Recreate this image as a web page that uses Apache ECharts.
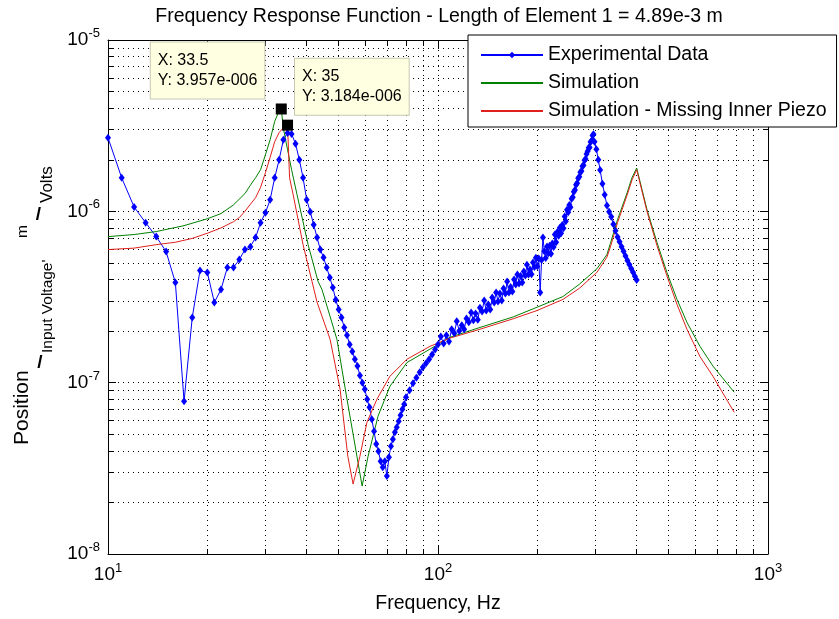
<!DOCTYPE html>
<html>
<head>
<meta charset="utf-8">
<script src="https://cdn.jsdelivr.net/npm/echarts@6/dist/echarts.min.js"></script>
<style>
html, body { margin: 0; padding: 0; background: #fff; }
#chart { width: 839px; height: 619px; }
</style>
</head>
<body>
<div id="chart"></div>
<script>
var FONT = '"Liberation Sans", Arial, Helvetica, sans-serif';

// measured response, Hz -> m/V
var expFreq = [10, 11, 12, 13, 14, 15, 16, 17, 18, 19, 20, 21, 22, 23, 24, 25, 26, 27, 28, 29,
    30, 31, 32, 33, 34, 35, 36, 37, 38, 39, 40, 41, 42, 43, 44, 45, 46, 47, 48, 49,
    50, 51, 52, 53, 54, 55, 56, 57, 58, 59, 60, 61, 62, 63, 64, 65, 66, 67, 68, 69,
    70, 71, 72, 73, 74, 75, 76, 77, 78, 79, 80, 82, 84, 86, 88, 90, 92, 94, 96, 98,
    100, 102, 104, 106, 108, 110, 112, 114, 116, 118, 120, 122, 124, 126, 128, 130, 132, 134, 136, 138,
    140, 142, 144, 146, 148, 150, 152, 154, 156, 158, 160, 162, 164, 166, 168, 170, 172, 174, 176, 178,
    180, 182, 184, 186, 188, 190, 192, 194, 196, 198, 200, 202, 204, 206, 208, 210, 212, 214, 216, 218,
    220, 222, 224, 226, 228, 230, 232, 234, 236, 238, 240, 242, 244, 246, 248, 250, 252, 254, 256, 258,
    260, 262, 264, 266, 268, 270, 272, 274, 276, 278, 280, 282, 284, 286, 288, 290, 292, 294, 296, 298,
    302, 306, 310, 315, 320, 325, 330, 335, 340, 345, 350, 355, 360, 365, 370, 375, 380, 385, 390, 395,
    400];
var expVal = [2.69e-6, 1.57e-6, 1.06e-6, 8.59e-7, 7.12e-7, 5.82e-7, 3.84e-7, 7.78e-8, 2.40e-7, 4.51e-7,
    4.40e-7, 2.94e-7, 3.50e-7, 4.70e-7, 4.70e-7, 5.23e-7, 5.98e-7, 6.22e-7, 7.03e-7, 8.59e-7,
    9.82e-7, 1.17e-6, 1.57e-6, 2.00e-6, 2.62e-6, 2.87e-6, 2.83e-6, 2.48e-6, 2.00e-6, 1.57e-6,
    1.17e-6, 9.96e-7, 8.36e-7, 7.03e-7, 5.98e-7, 5.37e-7, 4.70e-7, 4.11e-7, 3.59e-7, 3.05e-7,
    2.67e-7, 2.40e-7, 2.10e-7, 1.89e-7, 1.67e-7, 1.52e-7, 1.37e-7, 1.25e-7, 1.10e-7, 1.00e-7,
    9.15e-8, 8.00e-8, 7.18e-8, 6.11e-8, 5.21e-8, 4.38e-8, 3.98e-8, 3.48e-8, 3.21e-8, 3.48e-8,
    2.85e-8, 3.67e-8, 4.26e-8, 4.68e-8, 5.14e-8, 5.50e-8, 5.96e-8, 6.46e-8, 7.00e-8, 7.48e-8,
    8.22e-8, 9.02e-8, 9.91e-8, 1.07e-7, 1.15e-7, 1.23e-7, 1.30e-7, 1.37e-7, 1.46e-7, 1.56e-7,
    1.67e-7, 1.86e-7, 1.69e-7, 1.89e-7, 1.74e-7, 2.05e-7, 1.94e-7, 2.28e-7, 2.00e-7, 2.16e-7,
    2.05e-7, 2.37e-7, 2.25e-7, 2.57e-7, 2.31e-7, 2.53e-7, 2.33e-7, 2.74e-7, 2.60e-7, 3.02e-7,
    2.64e-7, 2.86e-7, 2.67e-7, 3.14e-7, 2.94e-7, 3.36e-7, 2.98e-7, 3.31e-7, 3.02e-7, 3.54e-7,
    3.32e-7, 3.89e-7, 3.36e-7, 3.62e-7, 3.41e-7, 4.00e-7, 3.74e-7, 4.28e-7, 3.79e-7, 4.20e-7,
    3.84e-7, 4.46e-7, 4.22e-7, 4.88e-7, 4.28e-7, 4.57e-7, 4.30e-7, 5.02e-7, 4.73e-7, 5.36e-7,
    4.78e-7, 5.30e-7, 3.36e-7, 5.20e-7, 7.03e-7, 5.84e-7, 5.35e-7, 6.23e-7, 5.70e-7, 6.29e-7,
    5.65e-7, 6.50e-7, 6.19e-7, 7.32e-7, 6.60e-7, 7.58e-7, 7.21e-7, 8.03e-7, 7.46e-7, 8.33e-7,
    7.97e-7, 9.32e-7, 8.75e-7, 1.02e-6, 9.87e-7, 1.09e-6, 1.056e-6, 1.186e-6, 1.21e-6, 1.30e-6,
    1.33e-6, 1.43e-6, 1.46e-6, 1.56e-6, 1.59e-6, 1.69e-6, 1.72e-6, 1.83e-6, 1.86e-6, 1.99e-6,
    2.02e-6, 2.16e-6, 2.24e-6, 2.35e-6, 2.36e-6, 2.54e-6, 2.58e-6, 2.77e-6, 2.82e-6, 2.55e-6,
    2.30e-6, 2.00e-6, 1.74e-6, 1.45e-6, 1.25e-6, 1.08e-6, 9.94e-7, 9.31e-7, 8.42e-7, 7.70e-7,
    7.09e-7, 6.64e-7, 6.22e-7, 5.84e-7, 5.49e-7, 5.17e-7, 4.90e-7, 4.64e-7, 4.41e-7, 4.18e-7,
    3.97e-7];

// simulation
var simFreq = [10, 12, 14, 17, 20, 22, 24, 26, 27, 28, 29, 30, 31, 32, 33, 33.5, 34, 35, 36, 37.4,
    40.4, 43.3, 44.5, 49.4, 53, 56.8, 58.9, 61.4, 65.8, 71.5, 80.5, 94.6, 108.7, 134, 169, 200,
    239, 268, 303, 325, 333, 350, 374, 387, 400, 430, 461, 494, 530, 568, 622, 681, 790];
var simVal = [7.12e-7, 7.32e-7, 7.62e-7, 8.25e-7, 9.05e-7, 9.7e-7, 1.09e-6, 1.27e-6, 1.42e-6, 1.57e-6,
    1.75e-6, 2.14e-6, 2.62e-6, 3.35e-6, 3.85e-6, 3.957e-6, 3.05e-6, 2.29e-6, 1.75e-6, 1.25e-6,
    6.39e-7, 3.90e-7, 3.50e-7, 1.79e-7, 8.0e-8, 3.72e-8, 2.49e-8, 3.72e-8, 6.37e-8, 9.52e-8,
    1.31e-7, 1.57e-7, 1.84e-7, 2.10e-7, 2.42e-7, 2.76e-7,
    3.18e-7, 3.75e-7, 4.62e-7, 5.59e-7, 6.5e-7, 8.94e-7, 1.28e-6, 1.57e-6, 1.79e-6, 1.02e-6,
    6.57e-7, 4.40e-7, 3.06e-7, 2.25e-7, 1.63e-7, 1.25e-7, 8.79e-8];

// simulation with the inner piezo missing
var missFreq = [10, 12, 14, 16, 18, 20, 22, 24, 25, 26, 27, 28, 29, 30, 31, 32, 33, 34, 35, 35.5,
    36.4, 39, 43, 47.1, 50.5, 53.3, 55.3, 58, 60.9, 65.3, 71.5, 80.5, 94.6, 108.7, 134, 169, 200,
    239, 268, 303, 325, 333, 350, 374, 387, 400, 430, 461, 494, 530, 568, 622, 681, 790];
var missVal = [5.98e-7, 6.1e-7, 6.39e-7, 6.6e-7, 6.95e-7, 7.45e-7, 8.0e-7, 8.7e-7, 9.2e-7, 1.0e-6,
    1.10e-6, 1.20e-6, 1.38e-6, 1.68e-6, 2.07e-6, 2.55e-6, 2.88e-6, 3.08e-6, 3.184e-6, 1.57e-6,
    1.25e-6, 6.39e-7, 2.95e-7, 1.79e-7, 9.15e-8, 3.72e-8, 2.56e-8, 3.72e-8, 5.87e-8, 8.0e-8,
    1.09e-7, 1.37e-7, 1.63e-7, 1.82e-7, 2.05e-7, 2.36e-7, 2.64e-7,
    3.06e-7, 3.55e-7, 4.40e-7, 5.40e-7, 6.2e-7, 8.6e-7, 1.24e-6, 1.52e-6, 1.75e-6, 9.96e-7,
    6.3e-7, 4.2e-7, 2.86e-7, 2.05e-7, 1.42e-7, 1.09e-7, 6.71e-8];

// data cursor tips
var tipSim = [33.5, 3.957e-6];
var tipMiss = [35, 3.184e-6];

var seriesNames = ['Experimental Data', 'Simulation', 'Simulation - Missing Inner Piezo'];
var colors = ['#0000ff', '#008000', '#e0201c'];

function pairs(xs, ys) {
    var out = [];
    for (var i = 0; i < xs.length; i++) out.push([xs[i], ys[i]]);
    return out;
}

// matlab style 3.957e-006
function matExp(v) {
    var s = v.toExponential(3).split('e');
    var e = parseInt(s[1], 10);
    var pad = ('000' + Math.abs(e)).slice(-3);
    return s[0] + 'e' + (e < 0 ? '-' : '+') + pad;
}

function powLabel(v) {
    return '{b|10}{e|' + Math.round(Math.log10(v)) + '}';
}

var labelRich = {
    b: { fontSize: 19, fontFamily: FONT, color: '#000' },
    e: { fontSize: 13, fontFamily: FONT, color: '#000', padding: [0, 0, 13, 0] }
};

var dotted = { color: '#000', width: 1, type: [1, 4] };

function makeAxis(pos, main) {
    return {
        type: 'log',
        logBase: 10,
        position: pos,
        axisLine: { show: true, onZero: false, lineStyle: { color: '#000', width: 1 } },
        axisTick: { show: true, inside: true, length: 8, lineStyle: { color: '#000' } },
        minorTick: { show: true, splitNumber: 9, length: 5, lineStyle: { color: '#000' } },
        splitLine: { show: main, lineStyle: dotted },
        minorSplitLine: { show: main, lineStyle: dotted },
        axisLabel: main ? { show: true, margin: 8, formatter: powLabel, rich: labelRich } : { show: false }
    };
}

var xMain = makeAxis('bottom', true);
xMain.min = 10; xMain.max = 1000;
xMain.name = 'Frequency, Hz';
xMain.nameLocation = 'middle';
xMain.nameGap = 40;
xMain.nameTextStyle = { fontSize: 19.5, fontFamily: FONT, color: '#000' };
var xTop = makeAxis('top', false);
xTop.min = 10; xTop.max = 1000;

var yMain = makeAxis('left', true);
yMain.min = 1e-8; yMain.max = 1e-5;
var yRight = makeAxis('right', false);
yRight.min = 1e-8; yRight.max = 1e-5;

function tipLabel(tip, pos) {
    return {
        show: true,
        position: pos,
        formatter: 'X: ' + tip[0] + '\nY: ' + matExp(tip[1]),
        backgroundColor: '#ffffe1',
        borderColor: '#c8c8b4',
        borderWidth: 1,
        padding: [8, 7, 8, 7],
        color: '#000',
        fontSize: 16,
        lineHeight: 20,
        fontFamily: FONT
    };
}

function tipPoint(tip, pos) {
    return {
        symbol: 'rect',
        symbolSize: 11,
        itemStyle: { color: '#000', opacity: 1 },
        label: tipLabel(tip, pos),
        data: [{ coord: tip }]
    };
}

var chart = echarts.init(document.getElementById('chart'), null, { renderer: 'canvas' });

var option = {
    animation: false,
    backgroundColor: '#fff',
    title: {
        text: 'Frequency Response Function - Length of Element 1 = 4.89e-3 m',
        left: 434,
        top: 2,
        textAlign: 'center',
        textStyle: { fontSize: 19.5, fontWeight: 'normal', fontFamily: FONT, color: '#000' }
    },
    legend: {
        data: [
            { name: seriesNames[0] },
            { name: seriesNames[1], itemStyle: { opacity: 0 } },
            { name: seriesNames[2], itemStyle: { opacity: 0 } }
        ],
        orient: 'vertical',
        left: 468,
        top: 35,
        padding: [9, 10, 5, 12],
        itemGap: 6,
        itemWidth: 62,
        itemHeight: 8,
        backgroundColor: '#fff',
        borderColor: '#000',
        borderWidth: 1,
        textStyle: { fontSize: 19.5, lineHeight: 22, fontFamily: FONT, color: '#000' }
    },
    grid: { left: 108, right: 71, top: 40, bottom: 64 },
    xAxis: [xMain, xTop],
    yAxis: [yMain, yRight],
    // y axis label: Position / (Input Voltage') , m / Volts
    graphic: [
        { type: 'text', x: 22, y: 445, rotation: Math.PI / 2,
          style: { text: 'Position', fontSize: 21, fontFamily: FONT, fill: '#000', align: 'left', verticalAlign: 'middle' } },
        { type: 'text', x: 40, y: 363,
          style: { text: '/', fontSize: 19, fontWeight: 'bold', fontFamily: FONT, fill: '#000', align: 'center', verticalAlign: 'middle' } },
        { type: 'text', x: 48, y: 353, rotation: Math.PI / 2,
          style: { text: "Input Voltage'", fontSize: 15.5, fontFamily: FONT, fill: '#000', align: 'left', verticalAlign: 'middle' } },
        { type: 'text', x: 23, y: 238, rotation: Math.PI / 2,
          style: { text: 'm', fontSize: 15.5, fontFamily: FONT, fill: '#000', align: 'left', verticalAlign: 'middle' } },
        { type: 'text', x: 38.5, y: 215,
          style: { text: '/', fontSize: 19, fontWeight: 'bold', fontFamily: FONT, fill: '#000', align: 'center', verticalAlign: 'middle' } },
        { type: 'text', x: 47, y: 203, rotation: Math.PI / 2,
          style: { text: 'Volts', fontSize: 17, fontFamily: FONT, fill: '#000', align: 'left', verticalAlign: 'middle' } }
    ],
    series: [
        {
            name: seriesNames[0],
            type: 'line',
            data: pairs(expFreq, expVal),
            symbol: 'diamond',
            symbolSize: [6, 8],
            lineStyle: { color: colors[0], width: 1 },
            itemStyle: { color: colors[0] }
        },
        {
            name: seriesNames[1],
            type: 'line',
            data: pairs(simFreq, simVal),
            showSymbol: false,
            lineStyle: { color: colors[1], width: 1 },
            itemStyle: { color: colors[1] },
            markPoint: tipPoint(tipSim, [-125, -61])
        },
        {
            name: seriesNames[2],
            type: 'line',
            data: pairs(missFreq, missVal),
            showSymbol: false,
            lineStyle: { color: colors[2], width: 1 },
            itemStyle: { color: colors[2] },
            markPoint: tipPoint(tipMiss, [13, -61])
        }
    ]
};

chart.setOption(option);
</script>
</body>
</html>
